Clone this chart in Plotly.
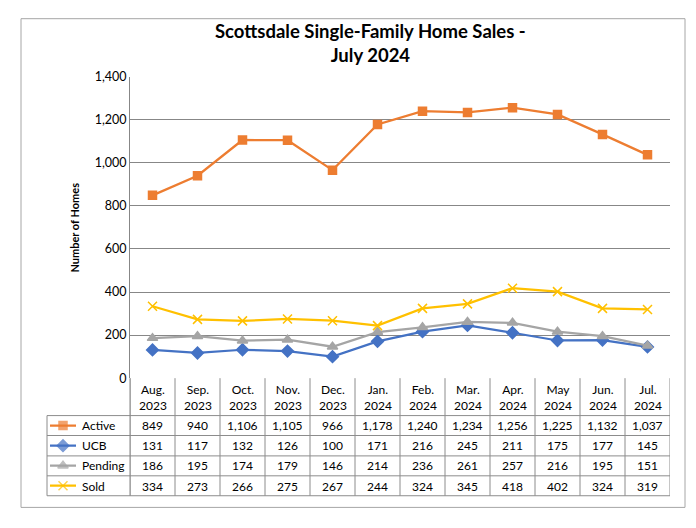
import plotly.graph_objects as go

W, H = 696, 528

months = ["Aug.<br>2023", "Sep.<br>2023", "Oct.<br>2023", "Nov.<br>2023", "Dec.<br>2023",
          "Jan.<br>2024", "Feb.<br>2024", "Mar.<br>2024", "Apr.<br>2024", "May<br>2024",
          "Jun.<br>2024", "Jul.<br>2024"]
active = [849, 940, 1106, 1105, 966, 1178, 1240, 1234, 1256, 1225, 1132, 1037]
ucb = [131, 117, 132, 126, 100, 171, 216, 245, 211, 175, 177, 145]
pending = [186, 195, 174, 179, 146, 214, 236, 261, 257, 216, 195, 151]
sold = [334, 273, 266, 275, 267, 244, 324, 345, 418, 402, 324, 319]

series = [
    ("Active", active, "#ED7D31", "square", 8),
    ("UCB", ucb, "#4472C4", "diamond", 9),
    ("Pending", pending, "#A5A5A5", "triangle-up", 9),
    ("Sold", sold, "#FFC000", "x-thin-open", 9),
]

FONT = "Lato, Carlito, Calibri, sans-serif"
GRID = "#878787"
TBL = "#8C8C8C"

def px(x):
    return x / W

def py(y):
    return 1 - y / H

x_idx = list(range(len(months)))

fig = go.Figure()
for name, vals, col, sym, sz in series:
    fig.add_trace(go.Scatter(
        x=x_idx, y=vals, mode="lines+markers", name=name,
        line=dict(color=col, width=2.25),
        marker=dict(symbol=sym, size=sz, color=col,
                    line=dict(color=col, width=1.5)),
        showlegend=False, xaxis="x", yaxis="y"))

# legend keys drawn inside the data table
for r, (name, vals, col, sym, sz) in enumerate(series):
    fig.add_trace(go.Scatter(
        x=[0, 0.5, 1], y=[r + 0.5] * 3, mode="lines+markers",
        line=dict(color=col, width=2.25),
        marker=dict(symbol=sym, size=[0, sz, 0], color=col,
                    line=dict(color=col, width=1.5)),
        showlegend=False, hoverinfo="skip", xaxis="x2", yaxis="y2"))

shapes = []
# outer chart border
shapes.append(dict(type="rect", xref="paper", yref="paper",
                   x0=px(21), x1=px(685), y0=py(514), y1=py(11),
                   line=dict(color="#A6A6A6", width=1)))
# table column boundaries
for i in range(len(months) + 1):
    shapes.append(dict(type="line", xref="x", yref="paper",
                       x0=i - 0.5, x1=i - 0.5, y0=py(502), y1=py(381),
                       line=dict(color=TBL, width=1)))
shapes.append(dict(type="line", xref="paper", yref="paper",
                   x0=px(47), x1=px(47), y0=py(502), y1=py(419.5),
                   line=dict(color=TBL, width=1)))
for yy in [419.5, 440, 461, 481.5, 502]:
    shapes.append(dict(type="line", xref="paper", yref="paper",
                       x0=px(47), x1=px(670), y0=py(yy), y1=py(yy),
                       line=dict(color=TBL, width=1)))
shapes.append(dict(type="line", xref="paper", yref="paper", x0=px(130), x1=px(130),
                   y0=py(502), y1=py(381), line=dict(color=GRID, width=1)))

annotations = []
annotations.append(dict(text="<b>Scottsdale Single-Family Home Sales -<br>July 2024</b>",
                        xref="paper", yref="paper", x=px(370), y=py(36.5),
                        xanchor="center", yanchor="middle", showarrow=False,
                        font=dict(family=FONT, size=18.5, color="#000000")))
annotations.append(dict(text="<b>Number of Homes</b>", xref="paper", yref="paper",
                        x=px(75), y=py(226), textangle=-90, showarrow=False,
                        xanchor="center", yanchor="middle",
                        font=dict(family=FONT, size=11, color="#000000")))
for i, m in enumerate(months):
    annotations.append(dict(text=m, xref="x", yref="paper", x=i, y=py(401),
                            showarrow=False, xanchor="center", yanchor="middle",
                            font=dict(family=FONT, size=12, color="#000000")))
row_centers = [430, 450.5, 471, 492]
for r, (name, vals, col, sym, sz) in enumerate(series):
    annotations.append(dict(text=name, xref="paper", yref="paper", x=px(80),
                            y=py(row_centers[r]), showarrow=False, xanchor="left",
                            yanchor="middle",
                            font=dict(family=FONT, size=12, color="#000000")))
    for i, v in enumerate(vals):
        annotations.append(dict(text=f"{v:,}", xref="x", yref="paper", x=i,
                                y=py(row_centers[r]), showarrow=False,
                                xanchor="center", yanchor="middle",
                                font=dict(family=FONT, size=12, color="#000000")))

fig.update_layout(
    width=W, height=H,
    margin=dict(l=0, r=0, t=0, b=0),
    paper_bgcolor="white", plot_bgcolor="white",
    font=dict(family=FONT, color="#000000"),
    xaxis=dict(domain=[px(130), px(670)], range=[-0.5, 11.5],
               showticklabels=False, showgrid=False, zeroline=False,
               showline=False, ticks="", fixedrange=True),
    yaxis=dict(domain=[py(381), py(70.7)], range=[0, 1400], dtick=200,
               tickformat=",d", showgrid=True, gridcolor=GRID, gridwidth=1,
               zeroline=False, showline=True, linecolor=GRID, linewidth=1,
               ticks="", ticklen=0, tickfont=dict(family=FONT, size=12.5, color="#000000"),
               fixedrange=True),
    xaxis2=dict(domain=[px(50), px(76)], range=[0, 1], visible=False, fixedrange=True),
    yaxis2=dict(domain=[py(502), py(419.5)], range=[4, 0], visible=False,
                anchor="x2", fixedrange=True),
    shapes=shapes,
    annotations=annotations,
)

fig.write_html("out.html", config={"displayModeBar": False},
               post_script="document.body.style.margin='0';")
